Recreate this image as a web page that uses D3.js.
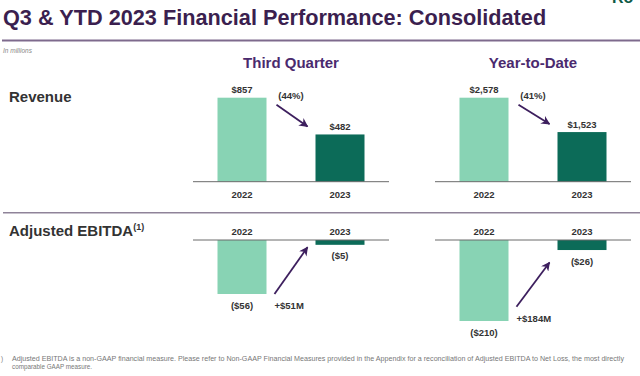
<!DOCTYPE html>
<html>
<head>
<meta charset="utf-8">
<script src="https://cdn.jsdelivr.net/npm/d3@7"></script>
<style>
  body { margin: 0; background: #fff; }
  svg { display: block; font-family: "Liberation Sans", Arial, sans-serif; }
</style>
</head>
<body>
<script>
const w = 640;
const h = 376;

// data
const years = ["2022", "2023"];
const revenueQ3 = [857, 482];
const revenueYTD = [2578, 1523];
const ebitdaQ3 = [-56, -5];
const ebitdaYTD = [-210, -26];
const revenueLabels = { q3: ["$857", "$482"], ytd: ["$2,578", "$1,523"] };
const ebitdaLabels = { q3: ["($56)", "($5)"], ytd: ["($210)", "($26)"] };
const revenueChange = { q3: "(44%)", ytd: "(41%)" };
const ebitdaChange = { q3: "+$51M", ytd: "+$184M" };

const light = "#88d3b4";
const dark = "#0c6b58";
const purple = "#3d1f5e";
const headPurple = "#4a2a6e";
const textCol = "#333";

const svg = d3.select("body").append("svg").attr("width", w).attr("height", h);

svg.append("defs").append("marker")
  .attr("id", "arr")
  .attr("viewBox", "0 0 10 10")
  .attr("refX", 9).attr("refY", 5)
  .attr("markerWidth", 5).attr("markerHeight", 5)
  .attr("markerUnits", "strokeWidth")
  .attr("orient", "auto")
  .append("path")
  .attr("d", "M0,0 L10,5 L0,10 L3,5 z")
  .attr("fill", purple);

// logo fragment, top right
svg.append("text").attr("x", 612).attr("y", 3)
  .attr("font-size", 16).attr("font-weight", "bold")
  .attr("fill", "#0e5a46").text("Ro");

// title
svg.append("text")
  .attr("x", 3).attr("y", 25)
  .attr("font-size", 21.7).attr("font-weight", "bold")
  .attr("fill", "#3b1f4f")
  .text("Q3 & YTD 2023 Financial Performance: Consolidated");

svg.append("line").attr("x1", 2).attr("x2", w).attr("y1", 40.5).attr("y2", 40.5)
  .attr("stroke", "#7e6a8d").attr("stroke-width", 2);

svg.append("text").attr("x", 3).attr("y", 53)
  .attr("font-size", 6.5).attr("font-style", "italic").attr("fill", "#888")
  .text("In millions");

// row titles
svg.append("text").attr("x", 9).attr("y", 101.5)
  .attr("font-size", 15).attr("font-weight", "bold").attr("fill", textCol)
  .text("Revenue");
const eb = svg.append("text").attr("x", 9).attr("y", 235.5)
  .attr("font-size", 15).attr("font-weight", "bold").attr("fill", textCol);
eb.append("tspan").text("Adjusted EBITDA");
eb.append("tspan").attr("font-size", 9).attr("dy", -6).text("(1)");

// row divider
svg.append("line").attr("x1", 3).attr("x2", w).attr("y1", 212.7).attr("y2", 212.7)
  .attr("stroke", "#8f8399").attr("stroke-width", 1.5);

const panels = [
  { key: "q3", title: "Third Quarter", x0: 193, rev: revenueQ3, ebt: ebitdaQ3,
    ebH: 54, a0: 0, a1: 2.5 },
  { key: "ytd", title: "Year-to-Date", x0: 435, rev: revenueYTD, ebt: ebitdaYTD,
    ebH: 81, a0: -14.3, a1: 12.4 }
];
const pw = 196;
const revBase = 181.7;
const revH = 84;
const ebBase = 240;

panels.forEach((p) => {
  const x = d3.scaleBand().domain(years).range([p.x0, p.x0 + pw])
    .paddingInner(0.5).paddingOuter(0.25);
  const cx = (d) => x(d) + x.bandwidth() / 2;
  const mid = p.x0 + pw / 2;

  // header
  svg.append("text").attr("x", mid).attr("y", 67.5)
    .attr("text-anchor", "middle").attr("font-size", 15).attr("font-weight", "bold")
    .attr("fill", headPurple).text(p.title);

  // revenue
  const yR = d3.scaleLinear().domain([0, d3.max(p.rev)]).range([revBase, revBase - revH]);
  const g1 = svg.append("g");
  g1.selectAll("rect").data(p.rev).join("rect")
    .attr("x", (d, i) => x(years[i])).attr("width", x.bandwidth())
    .attr("y", (d) => yR(d)).attr("height", (d) => yR(0) - yR(d))
    .attr("fill", (d, i) => (i === 0 ? light : dark));
  g1.append("line").attr("x1", p.x0).attr("x2", p.x0 + pw)
    .attr("y1", yR(0)).attr("y2", yR(0)).attr("stroke", "#6b6b6b").attr("stroke-width", 1);
  g1.selectAll("text.v").data(p.rev).join("text").attr("class", "v")
    .attr("x", (d, i) => cx(years[i])).attr("y", (d) => yR(d) - 4.5)
    .attr("text-anchor", "middle").attr("font-size", 9.5).attr("font-weight", "bold")
    .attr("fill", textCol).text((d, i) => revenueLabels[p.key][i]);
  g1.selectAll("text.yr").data(years).join("text").attr("class", "yr")
    .attr("x", (d) => cx(d)).attr("y", yR(0) + 16.3)
    .attr("text-anchor", "middle").attr("font-size", 9.5).attr("font-weight", "bold")
    .attr("fill", textCol).text((d) => d);
  g1.append("text").attr("x", mid).attr("y", 98.5)
    .attr("text-anchor", "middle").attr("font-size", 9.5).attr("font-weight", "bold")
    .attr("fill", textCol).text(revenueChange[p.key]);
  g1.append("line")
    .attr("x1", x(years[0]) + x.bandwidth() + 10).attr("y1", yR(p.rev[0]) + 7)
    .attr("x2", x(years[1]) - 8).attr("y2", yR(p.rev[1]) - 8)
    .attr("stroke", purple).attr("stroke-width", 1.8).attr("marker-end", "url(#arr)");

  // adjusted ebitda
  const yE = d3.scaleLinear().domain([d3.min(p.ebt), 0]).range([ebBase + p.ebH, ebBase]);
  const g2 = svg.append("g");
  g2.selectAll("rect").data(p.ebt).join("rect")
    .attr("x", (d, i) => x(years[i])).attr("width", x.bandwidth())
    .attr("y", yE(0)).attr("height", (d) => yE(d) - yE(0))
    .attr("fill", (d, i) => (i === 0 ? light : dark));
  g2.append("line").attr("x1", p.x0).attr("x2", p.x0 + pw)
    .attr("y1", yE(0)).attr("y2", yE(0)).attr("stroke", "#6b6b6b").attr("stroke-width", 1);
  g2.selectAll("text.v").data(p.ebt).join("text").attr("class", "v")
    .attr("x", (d, i) => cx(years[i])).attr("y", (d) => yE(d) + 14.5)
    .attr("text-anchor", "middle").attr("font-size", 9.5).attr("font-weight", "bold")
    .attr("fill", textCol).text((d, i) => ebitdaLabels[p.key][i]);
  g2.selectAll("text.yr").data(years).join("text").attr("class", "yr")
    .attr("x", (d) => cx(d)).attr("y", yE(0) - 5)
    .attr("text-anchor", "middle").attr("font-size", 9.5).attr("font-weight", "bold")
    .attr("fill", textCol).text((d) => d);
  const ax = x(years[0]) + x.bandwidth() + 8;
  const ay = yE(p.ebt[0]) + p.a0;
  g2.append("line")
    .attr("x1", ax).attr("y1", ay)
    .attr("x2", x(years[1]) - 8).attr("y2", yE(p.ebt[1]) + p.a1)
    .attr("stroke", purple).attr("stroke-width", 1.8).attr("marker-end", "url(#arr)");
  g2.append("text").attr("x", ax).attr("y", ay + 15)
    .attr("font-size", 9.5).attr("font-weight", "bold")
    .attr("fill", textCol).text(ebitdaChange[p.key]);
});

// footnote
svg.append("text").attr("x", 1).attr("y", 361).attr("font-size", 6.3).attr("fill", "#777").text(")");
svg.append("text").attr("x", 12).attr("y", 361).attr("font-size", 6.3).attr("fill", "#777")
  .attr("textLength", 612).attr("lengthAdjust", "spacingAndGlyphs")
  .text("Adjusted EBITDA is a non-GAAP financial measure. Please refer to Non-GAAP Financial Measures provided in the Appendix for a reconciliation of Adjusted EBITDA to Net Loss, the most directly");
svg.append("text").attr("x", 12).attr("y", 368.5).attr("font-size", 6.3).attr("fill", "#777")
  .text("comparable GAAP measure.");
</script>
</body>
</html>
